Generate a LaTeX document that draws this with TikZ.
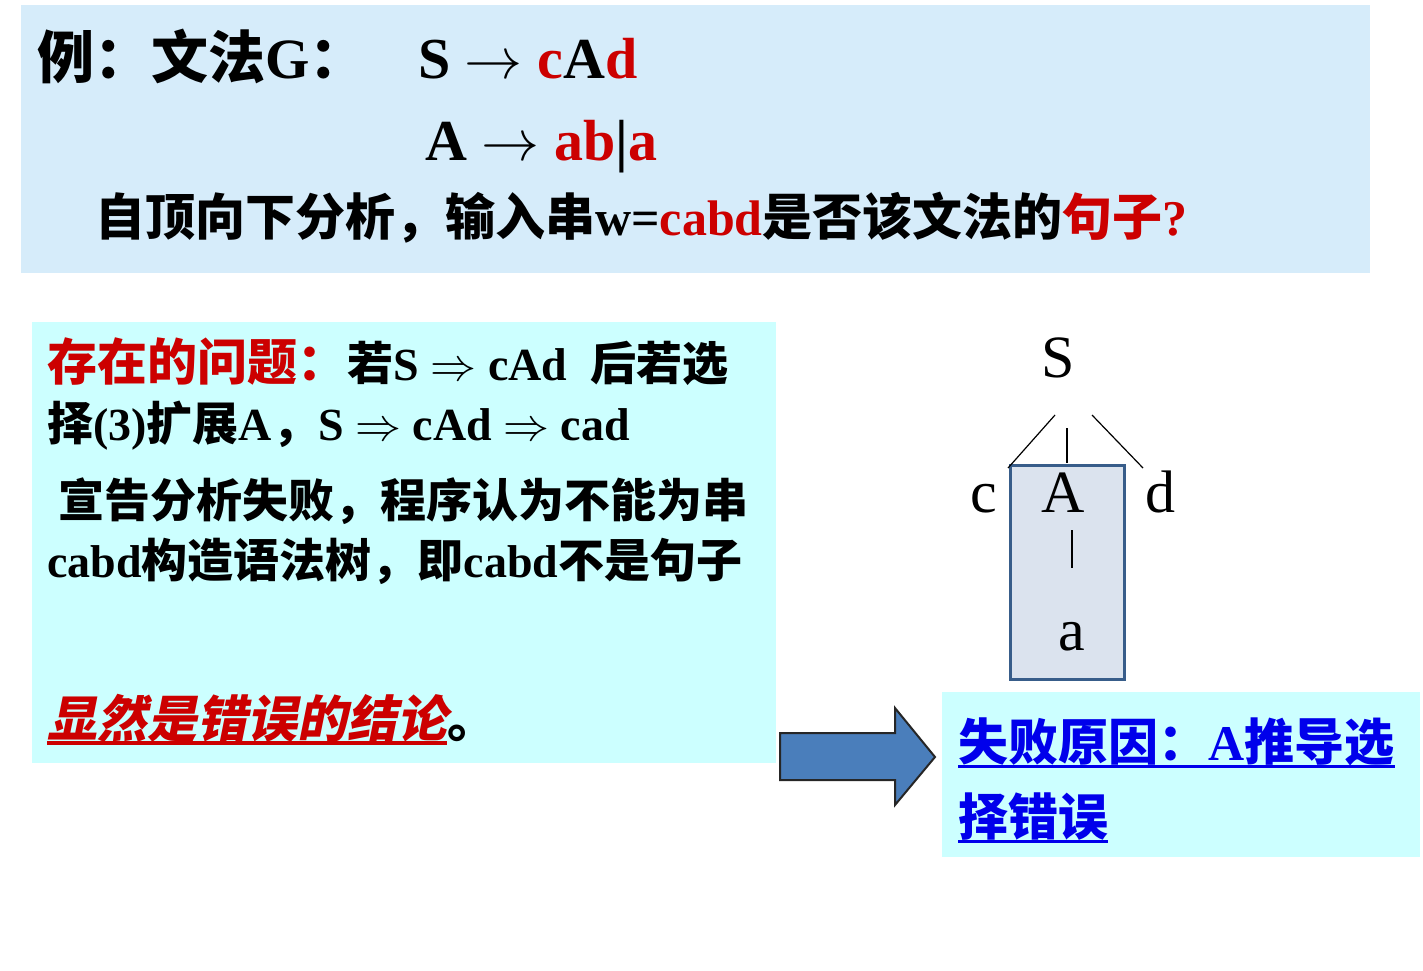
\RequirePackage{fix-cm}
\documentclass[tikz,border=0pt]{standalone}
\usepackage{fontspec}
\setmainfont{Liberation Serif}
\newfontfamily\cjk{Noto Sans CJK SC}
\newfontfamily\cjksl{Noto Sans CJK SC}[FakeSlant=0.2]
\newcommand\zh[1]{{\cjk\bfseries #1}}
\newcommand\zhsl[1]{{\cjksl\bfseries #1}}
\definecolor{topbg}{RGB}{214,236,250}
\definecolor{cybg}{RGB}{204,255,255}
\definecolor{dred}{RGB}{204,0,0}
\definecolor{rectfill}{RGB}{219,227,238}
\definecolor{rectdraw}{RGB}{56,93,138}
\definecolor{arrowfill}{RGB}{74,126,187}
\definecolor{lblue}{RGB}{0,0,235}
\tikzset{
  txt/.style={inner sep=0pt, anchor=base west},
  treetxt/.style={inner sep=0pt, anchor=base, font=\fontsize{60}{60}\selectfont},
  treeline/.style={draw=black, line width=1.2pt},
}
\begin{document}
\begin{tikzpicture}[x=1pt,y=-1pt]
\useasboundingbox (0,0) rectangle (1423,970);
\fill[white] (0,0) rectangle (1423,970);
% panels
\fill[topbg] (21,5) rectangle (1370,273);
\fill[cybg] (32,322) rectangle (776,763);
\fill[cybg] (942,692) rectangle (1420,857);
% top text
\node[txt,font=\fontsize{57}{60}\selectfont] (l1a) at (37,78) {\zh{例：文法}\textbf{G}\zh{：}};
\node[txt,font=\fontsize{58}{60}\selectfont] (l1b) at (418,78) {\textbf{S} $\rightarrow$ \textbf{\color{dred}c}\textbf{A}\textbf{\color{dred}d}};
\node[txt,font=\fontsize{58}{60}\selectfont] (l2) at (425,160) {\textbf{A} $\rightarrow$ \textbf{\color{dred}ab}\textbf{|}\textbf{\color{dred}a}};
\node[txt,font=\fontsize{50}{50}\selectfont] (l3) at (95,235) {\zh{自顶向下分析，输入串}\textbf{w=}\textbf{\color{dred}cabd}\zh{是否该文法的}\zh{\color{dred}句子}\textbf{\color{dred}?}};
% left panel text
\node[txt,font=\fontsize{50}{50}\selectfont] (p1) at (47,380) {\zh{\color{dred}存在的问题：}};
\node[txt,font=\fontsize{46}{46}\selectfont] (p1b) at (p1.base east) {\zh{若}\textbf{S} $\Rightarrow$ \textbf{cAd}\hspace{0.5em}\zh{后若选}};
\node[txt,font=\fontsize{46}{46}\selectfont] (p2) at (47,440) {\zh{择}\textbf{(3)}\zh{扩展}\textbf{A}\zh{，}\textbf{S} $\Rightarrow$ \textbf{cAd} $\Rightarrow$ \textbf{cad}};
\node[txt,font=\fontsize{46}{46}\selectfont] (p3) at (58,517) {\zh{宣告分析失败，程序认为不能为串}};
\node[txt,font=\fontsize{46}{46}\selectfont] (p4) at (47,577) {\textbf{cabd}\zh{构造语法树，即}\textbf{cabd}\zh{不是句子}};
\node[txt,font=\fontsize{50}{50}\selectfont] (p5) at (47,737) {\zhsl{\color{dred}显然是错误的结论}};
\node[txt,font=\fontsize{50}{50}\selectfont] (p5b) at (p5.base east) {\zh{。}};
\draw[dred, line width=4pt] ([yshift=-6pt]p5.base west) -- ([yshift=-6pt]p5.base east);
% tree
\node[draw=rectdraw, line width=3pt, fill=rectfill, minimum width=114pt, minimum height=214pt, inner sep=0pt] (box) at (1067,572) {};
\node[treetxt] (S) at (1058,377) {S};
\node[treetxt] (c) at (984,512) {c};
\node[treetxt] (A) at (1063,512) {A};
\node[treetxt] (d) at (1160,512) {d};
\node[treetxt] (a) at (1072,650) {a};
\coordinate (sl) at (1055,415); \coordinate (cl) at (1008,468);
\coordinate (sm) at (1067,428); \coordinate (am) at (1067,463);
\coordinate (sr) at (1092,415); \coordinate (dr) at (1143,468);
\coordinate (at) at (1072,530); \coordinate (ab) at (1072,568);
\draw[treeline] (sl) -- (cl);
\draw[treeline] (sm) -- (am);
\draw[treeline] (sr) -- (dr);
\draw[treeline] (at) -- (ab);
% block arrow
\draw[fill=arrowfill, draw=black!85, line width=2pt, line join=miter]
  (780,733) -- (895,733) -- (895,708) -- (935,757) -- (895,805) -- (895,780) -- (780,780) -- cycle;
% right panel text
\node[txt,font=\fontsize{50}{50}\selectfont,text=lblue] (r1) at (958,760) {\zh{失败原因：}\textbf{A}\zh{推导选}};
\node[txt,font=\fontsize{50}{50}\selectfont,text=lblue] (r2) at (958,835) {\zh{择错误}};
\draw[lblue, line width=3pt] ([yshift=-6pt]r1.base west) -- ([yshift=-6pt]r1.base east);
\draw[lblue, line width=3pt] ([yshift=-6pt]r2.base west) -- ([yshift=-6pt]r2.base east);
\end{tikzpicture}
\end{document}
